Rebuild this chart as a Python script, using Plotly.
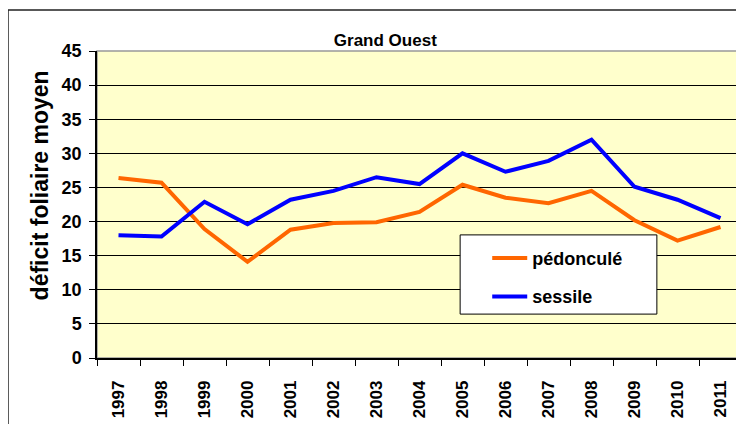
import plotly.graph_objects as go

years = ["1997", "1998", "1999", "2000", "2001", "2002", "2003", "2004",
         "2005", "2006", "2007", "2008", "2009", "2010", "2011"]
pedoncule = [26.4, 25.7, 18.9, 14.1, 18.8, 19.8, 19.9, 21.4,
             25.4, 23.5, 22.7, 24.5, 20.2, 17.2, 19.2]
sessile = [18.0, 17.8, 22.9, 19.6, 23.2, 24.5, 26.5, 25.5,
           30.0, 27.3, 28.9, 32.0, 25.1, 23.2, 20.5]
y_ticks = [0, 5, 10, 15, 20, 25, 30, 35, 40, 45]

FONT = "Liberation Sans, Arial, sans-serif"

fig = go.Figure()
fig.add_trace(go.Scatter(x=years, y=pedoncule, name="pédonculé", mode="lines",
                         legendgroup="a",
                         line=dict(color="#FF6600", width=4)))
fig.add_trace(go.Scatter(x=years, y=sessile, name="sessile", mode="lines",
                         legendgroup="b",
                         line=dict(color="#0000FF", width=4)))

# outer chart frame, plot area border, legend box
fig.add_shape(type="rect", xref="paper", yref="paper",
              x0=-0.138, x1=1.2, y0=-0.5, y1=1.1336,
              line=dict(color="#222222", width=1.5), layer="below")
fig.add_shape(type="rect", xref="paper", yref="paper",
              x0=0, x1=1, y0=0, y1=1,
              line=dict(color="#999999", width=1.5), layer="below")
fig.add_shape(type="rect", xref="paper", yref="paper",
              x0=0.563, x1=0.868, y0=0.143, y1=0.401,
              fillcolor="white", line=dict(color="black", width=1), layer="above")

# page body has an 8px margin, so margins are shifted to keep the plot in place
fig.update_layout(
    width=744, height=424,
    margin=dict(l=89, r=10, t=43, b=74, autoexpand=False),
    paper_bgcolor="white",
    plot_bgcolor="#FFFFCC",
    font=dict(family=FONT, color="black"),
    title=dict(text="Grand Ouest", x=0.447, xref="paper", xanchor="center",
               y=0.9245, yref="container", yanchor="middle",
               font=dict(size=17, weight="bold", family=FONT)),
    showlegend=True,
    legend=dict(x=0.605, y=0.385, xanchor="left", yanchor="top",
                bgcolor="rgba(0,0,0,0)", borderwidth=0,
                font=dict(size=18, weight="bold", family=FONT),
                itemwidth=35, tracegroupgap=12),
    annotations=[dict(text="déficit foliaire moyen", xref="paper", yref="paper",
                      x=-0.088, y=0.563, textangle=-90, showarrow=False,
                      xanchor="center", yanchor="middle",
                      font=dict(size=23, weight="bold", family=FONT))],
)

fig.update_xaxes(
    type="category", range=[-0.5, len(years) - 0.5],
    tickangle=-90, tickson="boundaries",
    ticks="outside", ticklen=6, tickcolor="black", tickwidth=1,
    ticklabelstandoff=14, automargin=False,
    showline=True, linecolor="black", linewidth=1.5,
    showgrid=False,
    tickfont=dict(size=17, weight="bold", family=FONT),
)
fig.update_yaxes(
    range=[0, 45], tickvals=y_ticks,
    ticks="outside", ticklen=6, tickcolor="black", tickwidth=1,
    ticklabelstandoff=4, automargin=False,
    showline=True, linecolor="black", linewidth=1.5,
    showgrid=True, gridcolor="black", gridwidth=1,
    zeroline=False,
    tickfont=dict(size=18, weight="bold", family=FONT),
)

fig.write_html("out.html")
